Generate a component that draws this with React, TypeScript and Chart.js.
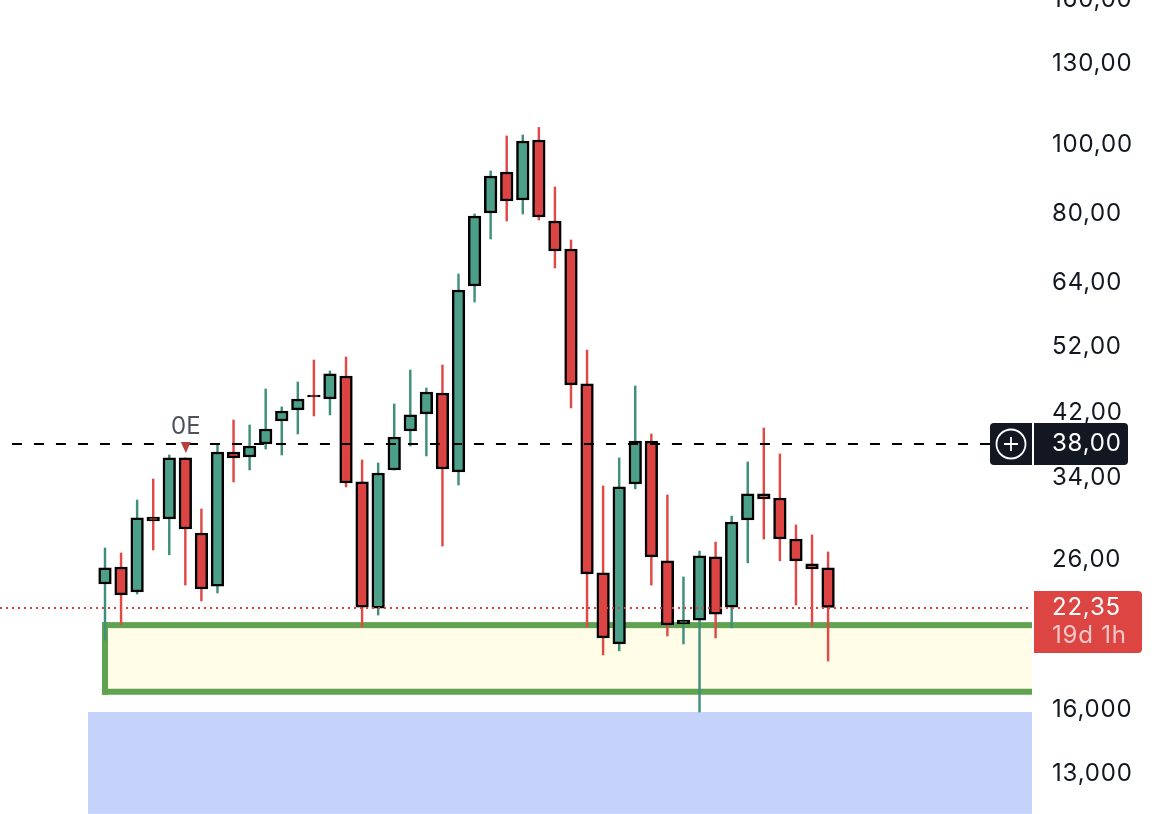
import React, { useEffect, useRef } from "react";
import { Chart, registerables } from "chart.js";

Chart.register(...registerables);

const opens = [24.11, 25.48, 23.49, 29.96, 29.77, 36.29, 28.45, 23.95, 36.99, 36.40, 37.97, 40.91, 42.40, 44.51, 43.93, 47.34, 33.57, 22.30, 34.90, 39.60, 41.86, 44.80, 34.68, 63.38, 80.32, 91.74, 83.77, 101.76, 78.26, 71.47, 46.13, 24.99, 19.85, 33.35, 38.34, 25.99, 21.18, 21.45, 26.33, 22.37, 29.67, 32.29, 31.87, 27.90, 25.73, 25.40];
const highs = [27.10, 26.66, 31.66, 33.89, 36.64, 36.29, 30.75, 37.85, 41.04, 40.38, 45.38, 42.82, 46.43, 49.85, 48.11, 50.34, 36.05, 35.70, 43.23, 48.26, 45.53, 49.05, 65.90, 80.06, 92.03, 103.10, 103.44, 106.00, 87.38, 73.58, 51.50, 33.14, 36.29, 45.83, 39.22, 32.18, 24.67, 26.83, 27.63, 30.05, 35.82, 39.99, 36.76, 29.20, 28.27, 26.75];
const lows = [20.11, 21.11, 23.34, 26.92, 26.50, 24.03, 22.82, 23.42, 33.57, 34.90, 37.35, 36.64, 39.22, 41.58, 41.72, 33.03, 20.97, 21.80, 34.90, 37.72, 36.52, 27.27, 33.24, 60.17, 73.82, 78.26, 80.06, 78.51, 67.19, 42.68, 20.97, 19.16, 19.41, 32.82, 24.03, 20.37, 19.85, 15.92, 20.24, 20.91, 25.82, 27.90, 25.99, 22.52, 21.04, 18.78];
const closes = [25.40, 23.27, 29.87, 29.58, 36.29, 28.82, 23.72, 36.99, 36.29, 37.72, 39.86, 42.26, 43.93, 44.22, 47.65, 33.46, 22.37, 34.56, 38.84, 41.72, 44.94, 35.01, 62.56, 79.54, 90.56, 83.50, 101.44, 79.28, 71.00, 45.98, 24.91, 20.24, 33.03, 38.34, 26.33, 21.11, 21.45, 26.41, 21.87, 29.48, 32.29, 31.77, 27.90, 25.99, 25.31, 22.35];

const tickValues = [160, 130, 100, 80, 64, 52, 42, 34, 26, 16, 13];
const tickLabels = ["160,00", "130,00", "100,00", "80,00", "64,00", "52,00", "42,00", "34,00", "26,00", "16,000", "13,000"];

const alertPrice = 38;
const alertLabel = "38,00";
const lastPrice = 22.35;
const lastLabel = "22,35";
const countdown = "19d 1h";
const greenZone = [17.0, 21.1];
const blueZone = [11.44, 15.92];
const markerIndex = 5;
const markerLabel = "0E";

const FONT = "Inter, 'Noto Sans', sans-serif";
const GREEN = "#4ca08a";
const GREEN_WICK = "#3f907a";
const RED = "#db4442";
const RED_WICK = "#df4a47";
const SPACING = "0.8px";

const overlays = {
  id: "overlays",
  beforeDraw(chart: any) {
    chart.ctx.letterSpacing = SPACING;
  },
  beforeDatasetsDraw(chart: any) {
    const { ctx, chartArea, scales } = chart;
    const x = scales.x;
    const y = scales.y;
    ctx.save();
    // blue zone
    const bx = x.getPixelForValue(-1.06);
    const bt = y.getPixelForValue(blueZone[1]);
    const bb = y.getPixelForValue(blueZone[0]);
    ctx.fillStyle = "#c5d3fb";
    ctx.fillRect(bx, bt, chartArea.right - bx, bb - bt);
    // green zone
    const gx = x.getPixelForValue(0);
    const gt = y.getPixelForValue(greenZone[1]);
    const gb = y.getPixelForValue(greenZone[0]);
    ctx.fillStyle = "#fffde7";
    ctx.fillRect(gx, gt, chartArea.right - gx, gb - gt);
    ctx.fillStyle = "#5fa24f";
    ctx.fillRect(gx - 3, gt - 3, chartArea.right - gx + 3, 6);
    ctx.fillRect(gx - 3, gb - 3, chartArea.right - gx + 3, 6);
    ctx.fillRect(gx - 3, gt - 3, 6, gb - gt + 6);
    ctx.restore();
  },
  afterDatasetsDraw(chart: any) {
    const { ctx, chartArea, scales } = chart;
    const x = scales.x;
    const y = scales.y;
    ctx.save();
    // last price dotted line
    const ly = Math.ceil(y.getPixelForValue(lastPrice));
    ctx.strokeStyle = RED;
    ctx.lineWidth = 2;
    ctx.setLineDash([2, 4]);
    ctx.beginPath();
    ctx.moveTo(0, ly);
    ctx.lineTo(chartArea.right, ly);
    ctx.stroke();
    // alert dashed line
    const ay = Math.round(y.getPixelForValue(alertPrice));
    ctx.strokeStyle = "#000000";
    ctx.setLineDash([10, 12]);
    ctx.beginPath();
    ctx.moveTo(x.getPixelForValue(-5.79), ay);
    ctx.lineTo(chartArea.right, ay);
    ctx.stroke();
    ctx.setLineDash([]);
    // marker
    const mx = x.getPixelForValue(markerIndex);
    ctx.fillStyle = "#b5403e";
    ctx.beginPath();
    ctx.moveTo(mx - 4.5, 442);
    ctx.lineTo(mx + 5.5, 442);
    ctx.lineTo(mx + 0.5, 453);
    ctx.closePath();
    ctx.fill();
    ctx.fillStyle = "#4f525c";
    ctx.letterSpacing = "0px";
    ctx.font = `400 24px ${FONT}`;
    ctx.textAlign = "center";
    ctx.textBaseline = "middle";
    ctx.fillText(markerLabel, mx + 0.5, 427);
    ctx.restore();
  },
  afterDraw(chart: any) {
    const { ctx, chartArea, scales } = chart;
    const y = scales.y;
    const right = chartArea.right;
    ctx.save();
    ctx.textAlign = "left";
    ctx.textBaseline = "middle";
    // alert label
    const ay = Math.round(y.getPixelForValue(alertPrice));
    ctx.fillStyle = "#131722";
    ctx.beginPath();
    ctx.roundRect(right - 42, ay - 21, 42, 42, [4, 0, 0, 4]);
    ctx.fill();
    ctx.beginPath();
    ctx.roundRect(right + 2, ay - 21, 94, 42, [0, 4, 4, 0]);
    ctx.fill();
    ctx.strokeStyle = "#ffffff";
    ctx.lineWidth = 1.8;
    ctx.beginPath();
    ctx.arc(right - 21, ay, 14.5, 0, Math.PI * 2);
    ctx.moveTo(right - 28, ay);
    ctx.lineTo(right - 14, ay);
    ctx.moveTo(right - 21, ay - 7);
    ctx.lineTo(right - 21, ay + 7);
    ctx.stroke();
    ctx.fillStyle = "#ffffff";
    ctx.letterSpacing = SPACING;
    ctx.font = `400 24px ${FONT}`;
    ctx.fillText(alertLabel, 1052, ay);
    // last price label
    const ly = Math.ceil(y.getPixelForValue(lastPrice));
    ctx.fillStyle = "#dc4541";
    ctx.beginPath();
    ctx.roundRect(right + 2, ly - 17, 108, 62, [0, 4, 4, 0]);
    ctx.fill();
    ctx.fillStyle = "#ffffff";
    ctx.fillText(lastLabel, 1052, ly);
    ctx.fillStyle = "rgba(255,255,255,0.7)";
    ctx.fillText(countdown, 1052, ly + 28);
    ctx.restore();
  },
};

export default function App() {
  const ref = useRef<HTMLCanvasElement>(null);
  useEffect(() => {
    const candles = opens.map((o, i) => ({ o, h: highs[i], l: lows[i], c: closes[i], i }));
    const isUp = (d: { o: number; c: number }) => d.c >= d.o;
    const chart = new Chart(ref.current as HTMLCanvasElement, {
      type: "bar",
      data: {
        datasets: [
          {
            label: "body",
            order: 1,
            grouped: false,
            barThickness: 12.6,
            borderWidth: 2.5,
            borderSkipped: false,
            borderColor: "#000000",
            backgroundColor: candles.map((d) => (isUp(d) ? GREEN : RED)),
            data: candles.map((d) => ({ x: d.i, y: [d.o, d.c] })),
          },
          {
            label: "wick",
            order: 2,
            grouped: false,
            barThickness: 1.8,
            borderWidth: 0,
            backgroundColor: candles.map((d) => (isUp(d) ? GREEN_WICK : RED_WICK)),
            data: candles.map((d) => ({ x: d.i, y: [d.l, d.h] })),
          },
        ] as any,
      },
      options: {
        animation: false,
        responsive: false,
        layout: { padding: 0 },
        plugins: { legend: { display: false }, tooltip: { enabled: false }, title: { display: false } },
        scales: {
          x: {
            type: "linear",
            display: false,
            min: -6.534,
            max: 57.69,
            offset: false,
          },
          y: {
            type: "logarithmic",
            position: "right",
            min: 11.435,
            max: 160.25,
            bounds: "data",
            grid: { display: false, drawTicks: false },
            border: { display: false },
            ticks: {
              autoSkip: false,
              padding: 20,
              labelOffset: -0.5,
              color: "#131722",
              font: { family: FONT, size: 24 },
              callback: (v: any) => {
                const k = tickValues.indexOf(Number(v));
                return k >= 0 ? tickLabels[k] : "";
              },
            },
            afterBuildTicks: (axis: any) => {
              axis.ticks = tickValues.map((value) => ({ value }));
            },
            afterFit: (axis: any) => {
              axis.width = 120;
              axis.paddingTop = 0;
              axis.paddingBottom = 0;
            },
          },
        },
      } as any,
      plugins: [overlays],
    });
    return () => chart.destroy();
  }, []);
  return (
    <div style={{ position: "fixed", left: 0, top: 0, width: 1152, height: 814, overflow: "hidden", background: "#ffffff" }}>
      <canvas ref={ref} width={1152} height={814} style={{ display: "block", width: 1152, height: 814 }} />
    </div>
  );
}
